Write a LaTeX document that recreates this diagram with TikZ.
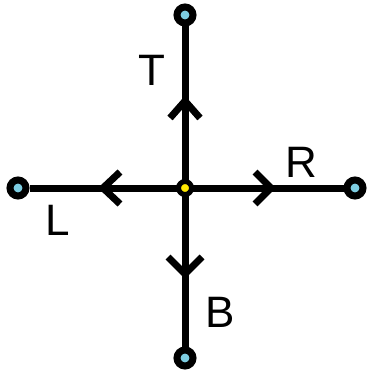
\documentclass[tikz,border=0pt]{standalone}
\usepackage{fontspec}
\setmainfont{Liberation Sans}
\definecolor{endblue}{RGB}{125,205,225}
\definecolor{midyellow}{RGB}{255,232,0}
\begin{document}
\begin{tikzpicture}[x=1pt,y=-1pt,
  axis/.style={line width=7pt},
  chev/.style={line width=7pt,line join=miter},
  endpt/.style={circle,draw=black,line width=7pt,fill=endblue,minimum size=16pt,inner sep=0pt},
  midpt/.style={circle,draw=black,line width=5pt,fill=midyellow,minimum size=13pt,inner sep=0pt},
  lbl/.style={font=\fontsize{44}{48}\selectfont,inner sep=0pt}]
\useasboundingbox (0,0) rectangle (372,382);
\coordinate (C) at (185,188);
\node[endpt] (T) at (185,15) {};
\node[endpt] (B) at (185,358) {};
\node[endpt] (L) at (18,188) {};
\node[endpt] (R) at (355,188) {};
\draw[axis] (T) -- (B);
\draw[axis] (L) -- (R);
\node[midpt] (M) at (C) {};
% chevrons
\draw[chev] (170,118) -- (185,101) -- (200,118);
\draw[chev] (168,257) -- (185,274) -- (202,257);
\draw[chev] (120,172) -- (103,188) -- (120,204);
\draw[chev] (255,172) -- (271,188) -- (255,204);
% labels
\node[lbl] (lT) at (152,70) {T};
\node[lbl] (lR) at (301,162) {R};
\node[lbl] (lL) at (58,220) {L};
\node[lbl] (lB) at (220,312) {B};
\end{tikzpicture}
\end{document}
